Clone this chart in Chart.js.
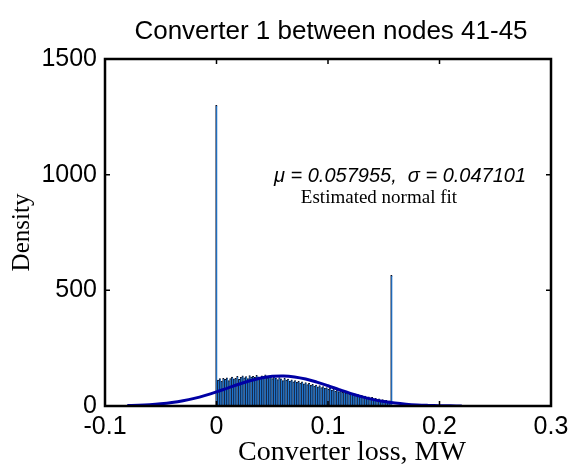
<!DOCTYPE html>
<html>
<head>
<meta charset="utf-8">
<script src="https://cdn.jsdelivr.net/npm/chart.js@4"></script>
<style>
  body { margin: 0; background: #fff; }
  canvas { display: block; }
</style>
</head>
<body>
<canvas id="grafico" width="569" height="466"></canvas>
<script>
// histograma: barras de largura fixa a partir de 0
const binWidth = 0.00157;
const densityValues = [
  1300,
  112, 118, 108, 120, 115, 122, 110, 118, 125, 117,
  120, 128, 115, 124, 130, 122, 127, 118, 132, 125,
  128, 124, 133, 126, 120, 130, 127, 135, 122, 129,
  125, 118, 127, 121, 114, 123, 117, 110, 120, 112,
  116, 108, 113, 104, 110, 102, 107, 99, 105, 96,
  101, 93, 98, 89, 94, 86, 90, 83, 88, 80,
  84, 76, 80, 72, 77, 69, 73, 65, 70, 62,
  66, 59, 63, 56, 60, 52, 56, 49, 53, 46,
  49, 43, 46, 40, 43, 37, 40, 34, 37, 31,
  33, 28, 31, 26, 28, 23, 25, 21, 22,
  565
];

// curva normal estimada
const curveX = [-0.08, -0.07, -0.06, -0.05, -0.04, -0.03, -0.02, -0.01, 0, 0.01, 0.02,
  0.03, 0.04, 0.05, 0.06, 0.07, 0.08, 0.09, 0.10, 0.11, 0.12, 0.13, 0.14, 0.15,
  0.16, 0.17, 0.18, 0.19, 0.20, 0.21, 0.22];
const curveY = [1.8, 3.2, 5.6, 9.4, 14.9, 22.7, 33, 45.9, 60.9, 77.4, 93.9,
  109, 120.8, 128.1, 130, 125.8, 116.6, 103.2, 87.4, 70.7, 54.7, 40.4, 28.6, 19.3,
  12.5, 7.7, 4.5, 2.6, 1.4, 0.7, 0.3];

const xTickValues = [-0.1, 0, 0.1, 0.2, 0.3];
const xTickLabels = ['-0.1', '0', '0.1', '0.2', '0.3'];
const yTickValues = [0, 500, 1000, 1500];
const yTickLabels = ['0', '500', '1000', '1500'];

const chartTitle = 'Converter 1 between nodes 41-45';
const xTitle = 'Converter loss, MW';
const fitLabel = 'μ = 0.057955,  σ = 0.047101';
const fitNote = 'Estimated normal fit';

const histData = densityValues.map((v, i) => ({ x: i * binWidth, y: v }));
const curveData = curveX.map((x, i) => ({ x: x, y: curveY[i] }));

// moldura, marcas internas e textos, estilo MATLAB
const frame = {
  id: 'frame',
  afterDraw(chart) {
    const { ctx, chartArea: a, scales: { x, y } } = chart;
    ctx.save();
    ctx.strokeStyle = '#000';
    ctx.lineWidth = 1.5;
    xTickValues.forEach(v => {
      const px = x.getPixelForValue(v);
      ctx.beginPath();
      ctx.moveTo(px, a.bottom); ctx.lineTo(px, a.bottom - 5);
      ctx.moveTo(px, a.top); ctx.lineTo(px, a.top + 5);
      ctx.stroke();
    });
    yTickValues.forEach(v => {
      const py = y.getPixelForValue(v);
      ctx.beginPath();
      ctx.moveTo(a.left, py); ctx.lineTo(a.left + 5, py);
      ctx.moveTo(a.right, py); ctx.lineTo(a.right - 5, py);
      ctx.stroke();
    });
    ctx.lineWidth = 2.5;
    ctx.strokeRect(a.left, a.top, a.right - a.left, a.bottom - a.top);

    ctx.fillStyle = '#000';
    ctx.textAlign = 'center';
    ctx.textBaseline = 'middle';
    // título centrado sobre a área do gráfico
    ctx.font = '26px "Liberation Sans", Arial, sans-serif';
    ctx.fillText(chartTitle, (a.left + a.right) / 2 + 3, 32);
    ctx.font = '28px "Liberation Serif", "Times New Roman", serif';
    ctx.fillText(xTitle, (a.left + a.right) / 2 + 24, 453);

    // anotação do ajuste
    ctx.font = 'italic 20px "Liberation Sans", Arial, sans-serif';
    ctx.fillText(fitLabel, x.getPixelForValue(0.1646), y.getPixelForValue(993));
    ctx.font = '19px "Liberation Serif", "Times New Roman", serif';
    ctx.fillText(fitNote, x.getPixelForValue(0.1457), y.getPixelForValue(898));
    ctx.restore();
  }
};

new Chart(document.getElementById('grafico'), {
  data: {
    datasets: [
      {
        type: 'line',
        data: curveData,
        borderColor: '#0000a4',
        borderWidth: 3,
        pointRadius: 0,
        tension: 0.4,
        order: 0
      },
      {
        type: 'bar',
        data: histData,
        backgroundColor: '#1f7ad6',
        borderColor: '#0a0f26',
        borderWidth: { left: 1, right: 0, top: 1, bottom: 0 },
        borderSkipped: false,
        barPercentage: 1,
        categoryPercentage: 1,
        order: 1
      }
    ]
  },
  options: {
    responsive: false,
    animation: false,
    layout: { padding: { left: 0, right: 18, top: 59, bottom: 0 } },
    plugins: {
      legend: { display: false },
      tooltip: { enabled: false },
      title: { display: false }
    },
    scales: {
      x: {
        type: 'linear',
        min: -0.1,
        max: 0.3,
        offset: false,
        grid: { display: false, drawTicks: false, offset: false },
        border: { display: false },
        afterBuildTicks: s => { s.ticks = xTickValues.map(v => ({ value: v })); },
        afterFit: s => { s.height = 60; s.paddingLeft = 0; s.paddingRight = 0; },
        ticks: {
          color: '#000',
          padding: 6,
          maxRotation: 0,
          font: { family: '"Liberation Sans", Arial, sans-serif', size: 25 },
          callback: (v, i) => xTickLabels[i]
        }
      },
      y: {
        min: 0,
        max: 1500,
        grid: { display: false, drawTicks: false },
        border: { display: false },
        afterBuildTicks: s => { s.ticks = yTickValues.map(v => ({ value: v })); },
        afterFit: s => { s.width = 105; s.paddingTop = 0; s.paddingBottom = 0; },
        ticks: {
          color: '#000',
          padding: 8,
          font: { family: '"Liberation Sans", Arial, sans-serif', size: 25 },
          callback: (v, i) => yTickLabels[i]
        },
        title: {
          display: true,
          text: 'Density',
          color: '#000',
          padding: { top: 7, bottom: 0 },
          font: { family: '"Liberation Serif", "Times New Roman", serif', size: 25 }
        }
      }
    }
  },
  plugins: [frame]
});
</script>
</body>
</html>
